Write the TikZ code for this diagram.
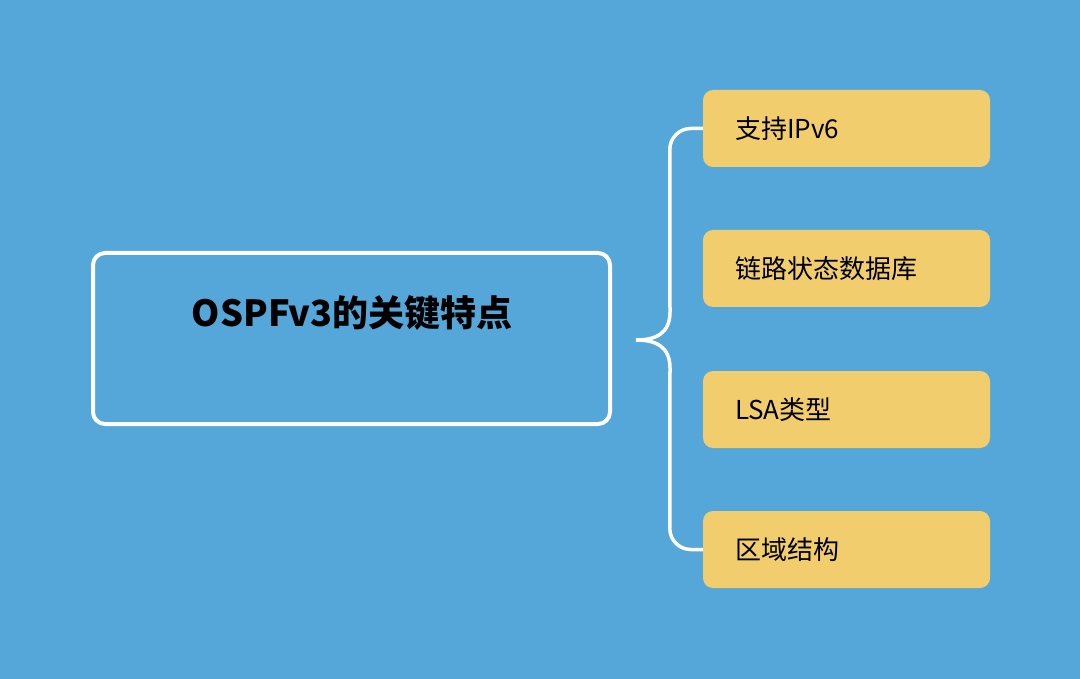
\documentclass[tikz,border=0pt]{standalone}
\usepackage{fontspec}
\setmainfont{Noto Sans CJK SC}
\begin{document}
\begin{tikzpicture}[x=1pt,y=-1pt,
  item/.style={fill=itemc,rounded corners=10pt,minimum width=287pt,minimum height=77pt,text width=223pt,align=left,font=\fontsize{26}{30}\selectfont,inner sep=0pt},
  brace/.style={draw=white,line width=3.5pt}]
\definecolor{bg}{HTML}{54A7D8}
\definecolor{itemc}{HTML}{F2CD6E}
\fill[bg] (0,0) rectangle (1080,679);
\useasboundingbox (0,0) rectangle (1080,679);
\node[draw=white,line width=4pt,rounded corners=12pt,minimum width=517pt,minimum height=171pt,inner sep=0pt] (main) at (351.5,338.5) {};
\node[font=\bfseries\fontsize{36}{40}\selectfont] (title) at (352,313) {OSPFv3的关键特点};
\node[item] (a) at (846.5,128.5) {支持IPv6};
\node[item] (b) at (846.5,268.5) {链路状态数据库};
\node[item] (c) at (846.5,409.5) {LSA类型};
\node[item] (d) at (846.5,549.5) {区域结构};
\coordinate (tip) at (636,340);
\draw[brace] (a.west) -- ++(-12,0) arc[start angle=270,end angle=180,radius=21] -- (670,312) .. controls (670,334) and (655,340) .. (tip);
\draw[brace] (d.west) -- ++(-12,0) arc[start angle=90,end angle=180,radius=21] -- (670,368) .. controls (670,346) and (655,340) .. (tip);
\end{tikzpicture}
\end{document}
